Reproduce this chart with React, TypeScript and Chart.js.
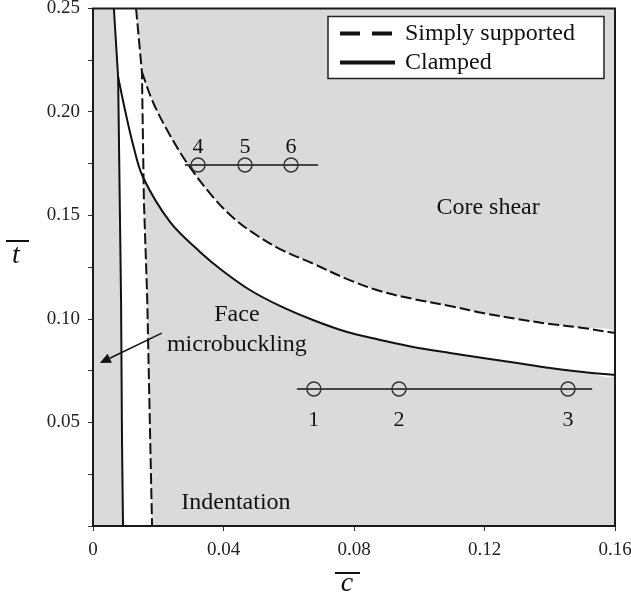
import React, { useEffect, useRef } from 'react';
import { Chart, registerables } from 'chart.js';

Chart.register(...registerables);

// ---- data (c̄ on x, t̄ on y) ----
// Clamped: near-vertical face-microbuckling / indentation boundary
const clampedWallC = [0.0064, 0.0077, 0.0086, 0.0089, 0.0092];
const clampedWallT = [0.25, 0.2169, 0.109, 0.04, 0];
// Simply supported: near-vertical boundary
const simpleWallC = [0.0132, 0.015, 0.0156, 0.0166, 0.0181];
const simpleWallT = [0.25, 0.2193, 0.157, 0.111, 0];
// Clamped: core shear boundary
const clampedShearC = [0.0077, 0.0098, 0.0123, 0.0153, 0.0236, 0.0328, 0.0398, 0.0481, 0.0573, 0.0674, 0.0779, 0.088, 0.0981, 0.1094, 0.1195, 0.13, 0.1401, 0.1502, 0.16];
const clampedShearT = [0.2169, 0.201, 0.1841, 0.1686, 0.1469, 0.1324, 0.1232, 0.114, 0.1063, 0.0995, 0.0937, 0.0899, 0.0865, 0.0836, 0.0812, 0.0787, 0.0763, 0.0744, 0.0729];
// Simply supported: core shear boundary
const simpleShearC = [0.015, 0.0181, 0.0227, 0.0288, 0.0368, 0.0429, 0.049, 0.0573, 0.0674, 0.0779, 0.088, 0.0981, 0.1094, 0.1195, 0.13, 0.1401, 0.1502, 0.16];
const simpleShearT = [0.2193, 0.2058, 0.1913, 0.1754, 0.1589, 0.149, 0.1417, 0.1338, 0.1268, 0.1193, 0.1135, 0.1097, 0.1063, 0.1029, 0.1, 0.0976, 0.0957, 0.0932];
// Test specimens
const lowSpecimenC = [0.0677, 0.0938, 0.1456];
const lowSpecimenT = 0.0662;
const lowSpecimenLabels = ['1', '2', '3'];
const lowLineC = [0.0625, 0.153];
const highSpecimenC = [0.0322, 0.0466, 0.0607];
const highSpecimenT = 0.1744;
const highSpecimenLabels = ['4', '5', '6'];
const highLineC = [0.0282, 0.069];
// Ticks
const xTickValues = [0, 0.04, 0.08, 0.12, 0.16];
const xTickLabels = ['0', '0.04', '0.08', '0.12', '0.16'];
const yTickValues = [0.05, 0.1, 0.15, 0.2, 0.25];
const yTickLabels = ['0.05', '0.10', '0.15', '0.20', '0.25'];
// Region labels: [text, c, t]
const regionLabels: [string, number, number][] = [
  ['Core shear', 0.1211, 0.1536],
  ['Face', 0.0441, 0.1019],
  ['microbuckling', 0.0441, 0.0874],
  ['Indentation', 0.0438, 0.0111],
];
const arrowFrom = [0.0211, 0.0932];
const arrowTo = [0.0021, 0.0787];
const legendLabels = ['Simply supported', 'Clamped'];

const SERIF = '"Liberation Serif", "DejaVu Serif", "Times New Roman", serif';

const pts = (cs: number[], ts: number[] | number) =>
  cs.map((c, i) => ({ x: c, y: Array.isArray(ts) ? ts[i] : ts }));

const rev = <T,>(a: T[]) => a.slice().reverse();

const findLabel = (vals: number[], labels: string[], v: number) => {
  const i = vals.findIndex((t) => Math.abs(t - v) < 1e-9);
  return i >= 0 ? labels[i] : '';
};

const decor = {
  id: 'decor',
  beforeDatasetsDraw(chart: any) {
    const { ctx, chartArea: a } = chart;
    ctx.save();
    ctx.fillStyle = '#dadada';
    ctx.fillRect(a.left, a.top, a.right - a.left, a.bottom - a.top);
    ctx.restore();
  },
  afterDraw(chart: any) {
    const { ctx, chartArea: a, scales } = chart;
    const x = scales.x;
    const y = scales.y;
    ctx.save();
    // frame
    ctx.strokeStyle = '#1a1a1a';
    ctx.lineWidth = 2;
    ctx.strokeRect(a.left, a.top, a.right - a.left, a.bottom - a.top);

    // specimen numbers
    ctx.fillStyle = '#111';
    ctx.textAlign = 'center';
    ctx.textBaseline = 'middle';
    ctx.font = `22px ${SERIF}`;
    lowSpecimenC.forEach((c, i) =>
      ctx.fillText(lowSpecimenLabels[i], x.getPixelForValue(c), y.getPixelForValue(lowSpecimenT) + 31)
    );
    highSpecimenC.forEach((c, i) =>
      ctx.fillText(highSpecimenLabels[i], x.getPixelForValue(c), y.getPixelForValue(highSpecimenT) - 18)
    );

    // region labels
    ctx.font = `24px ${SERIF}`;
    regionLabels.forEach(([txt, c, t]) => ctx.fillText(txt, x.getPixelForValue(c), y.getPixelForValue(t)));

    // arrow
    const x1 = x.getPixelForValue(arrowFrom[0]);
    const y1 = y.getPixelForValue(arrowFrom[1]);
    const x2 = x.getPixelForValue(arrowTo[0]);
    const y2 = y.getPixelForValue(arrowTo[1]);
    const ang = Math.atan2(y2 - y1, x2 - x1);
    const hl = 11;
    const hw = 5;
    ctx.strokeStyle = '#111';
    ctx.lineWidth = 1.5;
    ctx.beginPath();
    ctx.moveTo(x1, y1);
    ctx.lineTo(x2 - Math.cos(ang) * hl, y2 - Math.sin(ang) * hl);
    ctx.stroke();
    ctx.beginPath();
    ctx.moveTo(x2, y2);
    ctx.lineTo(x2 - Math.cos(ang) * hl + Math.sin(ang) * hw, y2 - Math.sin(ang) * hl - Math.cos(ang) * hw);
    ctx.lineTo(x2 - Math.cos(ang) * hl - Math.sin(ang) * hw, y2 - Math.sin(ang) * hl + Math.cos(ang) * hw);
    ctx.closePath();
    ctx.fillStyle = '#111';
    ctx.fill();

    // legend
    const bx = a.right - 287;
    const by = a.top + 8;
    const bw = 276;
    const bh = 62;
    ctx.fillStyle = '#ffffff';
    ctx.fillRect(bx, by, bw, bh);
    ctx.strokeStyle = '#222';
    ctx.lineWidth = 1.5;
    ctx.strokeRect(bx, by, bw, bh);
    ctx.strokeStyle = '#111';
    ctx.lineWidth = 4;
    ctx.beginPath();
    ctx.moveTo(bx + 12, by + 17);
    ctx.lineTo(bx + 32, by + 17);
    ctx.moveTo(bx + 44, by + 17);
    ctx.lineTo(bx + 64, by + 17);
    ctx.moveTo(bx + 12, by + 46);
    ctx.lineTo(bx + 67, by + 46);
    ctx.stroke();
    ctx.fillStyle = '#111';
    ctx.font = `24px ${SERIF}`;
    ctx.textAlign = 'left';
    ctx.fillText(legendLabels[0], bx + 77, by + 17);
    ctx.fillText(legendLabels[1], bx + 77, by + 46);

    // axis titles (letters with an overbar)
    ctx.textAlign = 'center';
    ctx.font = `italic 28px ${SERIF}`;
    ctx.fillText('t', 16, 256);
    ctx.fillText('c', a.left + 254, 584);
    ctx.lineWidth = 2;
    ctx.beginPath();
    ctx.moveTo(6, 241);
    ctx.lineTo(29, 241);
    ctx.moveTo(a.left + 242, 573);
    ctx.lineTo(a.left + 267, 573);
    ctx.stroke();
    ctx.restore();
  },
};

export default function App() {
  const ref = useRef<HTMLCanvasElement>(null);
  useEffect(() => {
    if (!ref.current) return;
    const lineBase = { pointRadius: 0, borderWidth: 2, borderColor: '#111', fill: false, order: 1 };
    const chart = new Chart(ref.current, {
      type: 'line',
      data: {
        datasets: [
          { ...lineBase, label: 'Simply supported wall', data: pts(simpleWallC, simpleWallT), borderDash: [11, 4] },
          { ...lineBase, label: 'Simply supported', data: pts(simpleShearC, simpleShearT), borderDash: [11, 4], tension: 0.35 },
          { ...lineBase, label: 'Clamped wall', data: pts(clampedWallC, clampedWallT) },
          { ...lineBase, label: 'Clamped', data: pts(clampedShearC, clampedShearT), tension: 0.35 },
          { ...lineBase, label: 'Specimens 1-3 line', data: pts(lowLineC, lowSpecimenT), borderColor: '#444' },
          { ...lineBase, label: 'Specimens 4-6 line', data: pts(highLineC, highSpecimenT), borderColor: '#444' },
          {
            label: 'Specimens 1-3',
            data: pts(lowSpecimenC, lowSpecimenT),
            showLine: false,
            pointRadius: 7,
            pointBorderWidth: 1.5,
            pointBorderColor: '#333',
            pointBackgroundColor: 'rgba(0,0,0,0)',
            order: 0,
          },
          {
            label: 'Specimens 4-6',
            data: pts(highSpecimenC, highSpecimenT),
            showLine: false,
            pointRadius: 7,
            pointBorderWidth: 1.5,
            pointBorderColor: '#333',
            pointBackgroundColor: 'rgba(0,0,0,0)',
            order: 0,
          },
          {
            label: 'strip',
            data: [...pts(clampedWallC, clampedWallT), ...rev(pts(simpleWallC, simpleWallT))],
            pointRadius: 0,
            borderWidth: 0,
            backgroundColor: '#ffffff',
            fill: 'shape',
            order: 5,
          },
          {
            label: 'band',
            data: [...pts(simpleShearC, simpleShearT), ...rev(pts(clampedShearC, clampedShearT))],
            pointRadius: 0,
            borderWidth: 0,
            backgroundColor: '#ffffff',
            fill: 'shape',
            tension: 0.35,
            order: 5,
          },
        ],
      },
      options: {
        responsive: false,
        animation: false,
        devicePixelRatio: 1,
        events: [],
        layout: { padding: { top: 8, right: 16, bottom: 0, left: 0 } },
        plugins: { legend: { display: false }, tooltip: { enabled: false } },
        scales: {
          x: {
            type: 'linear',
            min: 0,
            max: 0.16,
            grid: { display: true, drawOnChartArea: false, drawTicks: true, tickLength: 5, color: '#333' },
            border: { display: true, color: '#222', width: 2 },
            ticks: {
              stepSize: 0.04,
              autoSkip: false,
              maxRotation: 0,
              padding: 8,
              color: '#222',
              font: { family: SERIF, size: 19 },
              callback: (v: any) => findLabel(xTickValues, xTickLabels, Number(v)),
            },
            afterFit: (s: any) => {
              s.height = 68;
              s.paddingLeft = 0;
              s.paddingRight = 0;
            },
          },
          y: {
            type: 'linear',
            min: 0,
            max: 0.25,
            grid: { display: true, drawOnChartArea: false, drawTicks: true, tickLength: 5, color: '#333' },
            border: { display: true, color: '#222', width: 2 },
            ticks: {
              stepSize: 0.025,
              autoSkip: false,
              padding: 8,
              color: '#222',
              font: { family: SERIF, size: 19 },
              callback: (v: any) => findLabel(yTickValues, yTickLabels, Number(v)),
            },
            afterFit: (s: any) => {
              s.width = 93;
              s.paddingTop = 0;
              s.paddingBottom = 0;
            },
          },
        },
      },
      plugins: [decor],
    } as any);
    return () => chart.destroy();
  }, []);
  return (
    <div style={{ position: 'fixed', left: 0, top: 0, width: 631, height: 594, background: '#fff' }}>
      <canvas ref={ref} width={631} height={594} />
    </div>
  );
}
